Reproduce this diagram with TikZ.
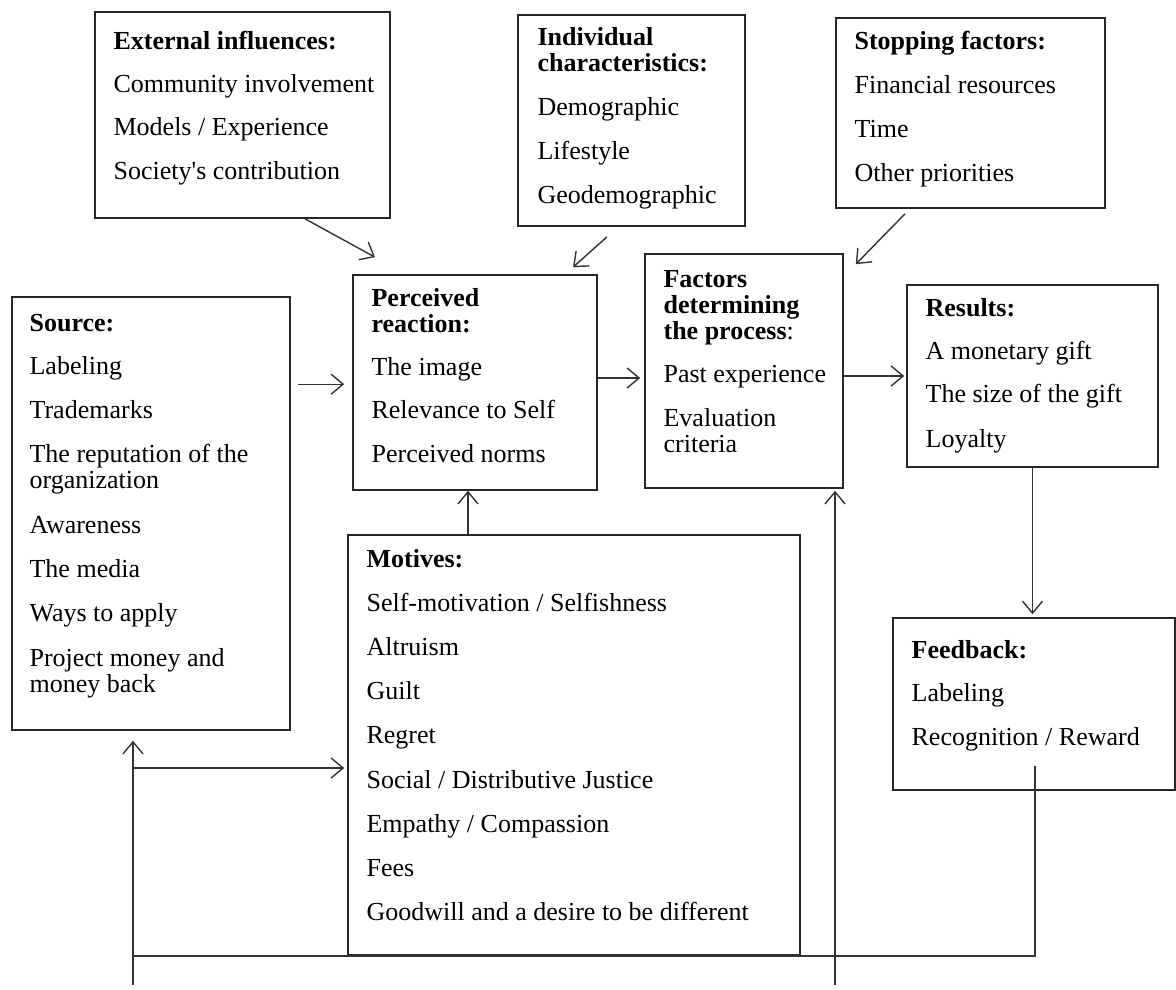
\documentclass[tikz,border=0pt]{standalone}
\usepackage{fontspec}
\setmainfont{Liberation Serif}
\usetikzlibrary{arrows.meta,fit}

\tikzset{
  blk/.style={draw=black!85,line width=0.8pt,inner sep=0pt},
  txt/.style={anchor=north west,inner sep=0pt,align=left,
    font=\fontsize{13}{13}\selectfont},
  wire/.style={draw=black!80,line width=0.7pt},
  arr/.style={wire,-{Straight Barb[length=6pt,width=10pt]}}
}

\begin{document}
\begin{tikzpicture}[x=0.5pt,y=-0.5pt]
\useasboundingbox (0,0) rectangle (1176,989);

% boxes
\node[blk,fit={(95,12) (390,218)}] (ext) {};
\node[blk,fit={(518,15) (745,226)}] (ind) {};
\node[blk,fit={(836,18) (1105,208)}] (stp) {};
\node[blk,fit={(12,297) (290,730)}] (src) {};
\node[blk,fit={(353,275) (597,490)}] (per) {};
\node[blk,fit={(645,254) (843,488)}] (fac) {};
\node[blk,fit={(907,285) (1158,467)}] (res) {};
\node[blk,fit={(348,535) (800,955)}] (mot) {};
\node[blk,fit={(893,618) (1175,790)}] (fb) {};

% texts
\node[txt] (ext-t) at ([shift={(19,19.5)}]ext.north west)
  {\textbf{External influences:}\\[8.6pt] Community involvement\\[8.6pt]
   Models / Experience\\[8.6pt] Society\textquotesingle s contribution};
\node[txt] (ind-t) at ([shift={(20,12.5)}]ind.north west)
  {\textbf{Individual}\\ \textbf{characteristics:}\\[9.1pt] Demographic\\[9.1pt]
   Lifestyle\\[9.1pt] Geodemographic};
\node[txt] (stp-t) at ([shift={(19,13.5)}]stp.north west)
  {\textbf{Stopping factors:}\\[9pt] Financial resources\\[9pt] Time\\[9pt]
   Other priorities};
\node[txt] (src-t) at ([shift={(18,17.5)}]src.north west)
  {\textbf{Source:}\\[8.6pt] Labeling\\[9.1pt] Trademarks\\[9.1pt]
   The reputation of the\\ organization\\[9.3pt] Awareness\\[9.1pt] The media\\[9.1pt]
   Ways to apply\\[9.3pt] Project money and\\ money back};
\node[txt] (per-t) at ([shift={(19,13.5)}]per.north west)
  {\textbf{Perceived}\\ \textbf{reaction:}\\[8.6pt] The image\\[8.6pt]
   Relevance to Self\\[9pt] Perceived norms};
\node[txt] (fac-t) at ([shift={(19,16.5)}]fac.north west)
  {\textbf{Factors}\\ \textbf{determining}\\ \textbf{the process}:\\[8.8pt]
   Past experience\\[9.1pt] Evaluation\\ criteria};
\node[txt] (res-t) at ([shift={(19,13.5)}]res.north west)
  {\textbf{Results:}\\[8.8pt] A monetary gift\\[8.6pt] The size of the gift\\[9.1pt]
   Loyalty};
\node[txt] (mot-t) at ([shift={(19,14.5)}]mot.north west)
  {\textbf{Motives:}\\[9.1pt] Self-motivation / Selfishness\\[9.1pt] Altruism\\[9.1pt]
   Guilt\\[9.1pt] Regret\\[9.1pt] Social / Distributive Justice\\[9.1pt]
   Empathy / Compassion\\[9.1pt] Fees\\[9.1pt] Goodwill and a desire to be different};
\node[txt] (fb-t) at ([shift={(19,22.5)}]fb.north west)
  {\textbf{Feedback:}\\[8.8pt] Labeling\\[9pt] Recognition / Reward};

% connectors
\coordinate (src-out) at ([shift={(7,88)}]src.north east);
\coordinate (per-out) at ([shift={(0,-4.5)}]per.east);
\coordinate (mot-in) at ([shift={(-106,0)}]mot.north);
\coordinate (fb-out) at ([shift={(1,-25)}]fb.south);
\coordinate (loop-b) at (133,985);
\coordinate (loop-m) at (133,768);
\coordinate (fac-b) at (835,985);

\draw[arr] ([shift={(62.5,0)}]ext.south) -- ([shift={(-100,-17)}]per.north);
\draw[arr] ([shift={(-24.5,10)}]ind.south) -- ([shift={(98,-7)}]per.north);
\draw[arr] ([shift={(-65.5,5)}]stp.south) -- ([shift={(12,11)}]fac.north east);
\draw[arr,shorten >=4pt] (src-out) -- (src-out -| per.west);
\draw[arr,shorten >=2pt] (per-out) -- (per-out -| fac.west);
\draw[arr,shorten >=1pt] (res.west -| fac.east) -- (res.west);
\draw[arr] (mot-in) -- (mot-in |- per.south);
\draw[arr,shorten >=1.5pt] (res.south) -- (res.south |- fb.north);
\draw[wire] (fb-out) -- (fb-out |- mot.south) -- (loop-b |- mot.south);
\draw[arr,shorten >=5pt] (loop-b) -- (loop-b |- src.south);
\draw[arr,shorten >=1.5pt] (loop-m) -- (loop-m -| mot.west);
\draw[arr,shorten >=1pt] (fac-b) -- (fac-b |- fac.south);
\end{tikzpicture}
\end{document}
